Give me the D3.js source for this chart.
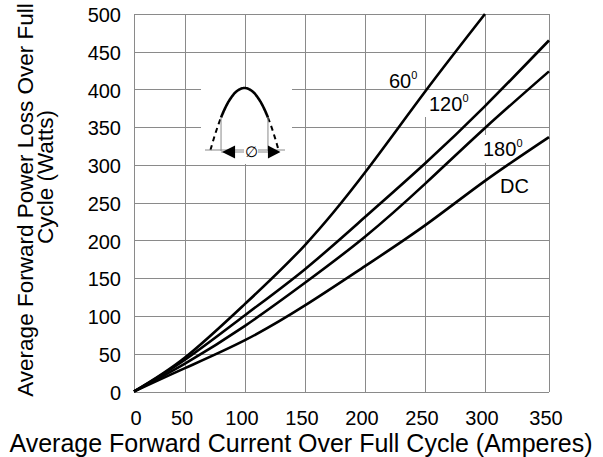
<!DOCTYPE html>
<html><head><meta charset="utf-8">
<script src="https://cdn.jsdelivr.net/npm/d3@7"></script>
<style>body{margin:0;background:#fff}svg{display:block}</style>
</head><body><svg id="c" width="603" height="457"></svg>
<script>
// ---- data ----
const current = [0, 50, 100, 150, 200, 250, 300, 350];
const loss60  = [0, 45, 116, 194, 290, 397, 500];
const loss120 = [0, 42, 101, 162, 231, 302, 378, 465];
const loss180 = [0, 37, 87, 144, 205, 275, 349, 424];
const lossDC  = [0, 31, 68, 114, 166, 220, 279, 337];
const seriesLabels = ["60", "120", "180", "DC"];
const xTicks = [0, 50, 100, 150, 200, 250, 300, 350];
const yTicks = [0, 50, 100, 150, 200, 250, 300, 350, 400, 450, 500];
const xTitle = "Average Forward Current Over Full Cycle (Amperes)";
const yTitle1 = "Average Forward Power Loss Over Full";
const yTitle2 = "Cycle (Watts)";

const FONT = "Arial, 'Liberation Sans', Helvetica, sans-serif";
const svg = d3.select("#c").style("font-family", FONT);

const x = d3.scaleLinear().domain(xTicks).range([134, 185, 245, 305, 365, 425, 485, 549]);
const y = d3.scaleLinear().domain([0, 500]).range([391.5, 14]);

const GRID = "#8a8a8a";
// grid
const g = svg.append("g").attr("shape-rendering", "crispEdges");
g.selectAll("line.v").data(xTicks).join("line")
  .attr("x1", d => Math.round(x(d)) + 0.5).attr("x2", d => Math.round(x(d)) + 0.5)
  .attr("y1", y(0)).attr("y2", y(500)).attr("stroke", GRID).attr("stroke-width", 1);
g.selectAll("line.h").data(yTicks).join("line")
  .attr("y1", d => Math.round(y(d)) + 0.5).attr("y2", d => Math.round(y(d)) + 0.5)
  .attr("x1", x(0)).attr("x2", x(350)).attr("stroke", GRID).attr("stroke-width", 1);

// tick labels
svg.append("g").selectAll("text").data(xTicks).join("text")
  .attr("x", d => x(d) + (d === 0 ? 2 : -3)).attr("y", 425)
  .attr("text-anchor", "middle").attr("font-size", 20).text(d => d);
svg.append("g").selectAll("text").data(yTicks).join("text")
  .attr("x", 121).attr("y", d => y(d) + 1).attr("dy", "0.35em")
  .attr("text-anchor", "end").attr("font-size", 20).text(d => d);

// axis titles
svg.append("text").attr("x", 301).attr("y", 452).attr("text-anchor", "middle")
  .attr("font-size", 25).text(xTitle);
svg.append("text").attr("transform", "translate(33,200) rotate(-90)")
  .attr("text-anchor", "middle").attr("font-size", 22.5).text(yTitle1);
svg.append("text").attr("transform", "translate(53,177) rotate(-90)")
  .attr("text-anchor", "middle").attr("font-size", 22.5).text(yTitle2);

// inset (conduction-angle sketch) in its own local scale
const ix = d3.scaleLinear().domain([-1, 1]).range([210.5, 278.5]);
const iy = d3.scaleLinear().domain([0, 1]).range([150, 88]);
const U = 0.69;
svg.append("rect").attr("x", 201).attr("y", 88).attr("width", 91).attr("height", 76).attr("fill", "#fff");

// label positions and background padding [left, right, top, bottom]
const labelPos = [[389, 88], [429, 111], [483, 156], [500, 193]];
const labelPad = [null, [6, 11, 1, 2], [2, 6, 2, 3], null];
const boxesG = svg.append("g");

// curves
const line = d3.line().x((d, i) => x(current[i])).y(d => y(d)).curve(d3.curveNatural);
const curveG = svg.append("g");
[loss60, loss120, loss180, lossDC].forEach(s => {
  curveG.append("path").attr("d", line(s)).attr("fill", "none")
    .attr("stroke", "#000").attr("stroke-width", 2.6).attr("stroke-linejoin", "round");
});

const textsG = svg.append("g");
seriesLabels.forEach((lab, i) => {
  const t = textsG.append("text").attr("x", labelPos[i][0]).attr("y", labelPos[i][1])
    .attr("font-size", 20);
  t.append("tspan").text(lab);
  if (lab !== "DC") t.append("tspan").attr("font-size", 11).attr("dy", -9).text("0");
  const p = labelPad[i];
  if (p) {
    const b = t.node().getBBox();
    boxesG.append("rect").attr("x", b.x - p[0]).attr("y", b.y - p[2])
      .attr("width", b.width + p[0] + p[1]).attr("height", b.height + p[2] + p[3]).attr("fill", "#fff");
  }
});

// inset drawing
const ins = svg.append("g");
const hump = d3.line().x(u => ix(u)).y(u => iy(1 - u * u)).curve(d3.curveBasis);
const solidU = d3.range(-U, U + 0.001, 0.02);
ins.append("path").attr("d", hump(solidU)).attr("fill", "none").attr("stroke", "#000").attr("stroke-width", 2.6);
[[-1, -U], [U, 1]].forEach(([a, b]) => {
  ins.append("path").attr("d", hump(d3.range(a, b + 0.001, 0.02))).attr("fill", "none")
    .attr("stroke", "#000").attr("stroke-width", 2).attr("stroke-dasharray", "5,4");
});
ins.append("line").attr("x1", ix(-U)).attr("x2", ix(-U)).attr("y1", iy(1 - U * U)).attr("y2", 151)
  .attr("stroke", GRID);
ins.append("line").attr("x1", ix(U)).attr("x2", ix(U)).attr("y1", iy(1 - U * U)).attr("y2", 151)
  .attr("stroke", GRID);
ins.append("line").attr("x1", 205).attr("x2", 285).attr("y1", 150).attr("y2", 150).attr("stroke", GRID);
ins.append("line").attr("x1", ix(-U)).attr("x2", ix(U)).attr("y1", 152).attr("y2", 152).attr("stroke", GRID);
const aL = ix(-U) + 1, aR = ix(U);
ins.append("path").attr("d", `M${aL},152L${aL + 13},145.5L${aL + 13},158.5Z`).attr("fill", "#000");
ins.append("path").attr("d", `M${aR + 12.5},152L${aR},145.5L${aR},158.5Z`).attr("fill", "#000");
ins.append("rect").attr("x", 244).attr("y", 144).attr("width", 14).attr("height", 15).attr("fill", "#fff");
ins.append("text").attr("x", 251).attr("y", 152).attr("dy", "0.35em").attr("text-anchor", "middle")
  .attr("font-size", 15).text("\u2205");
</script></body></html>
